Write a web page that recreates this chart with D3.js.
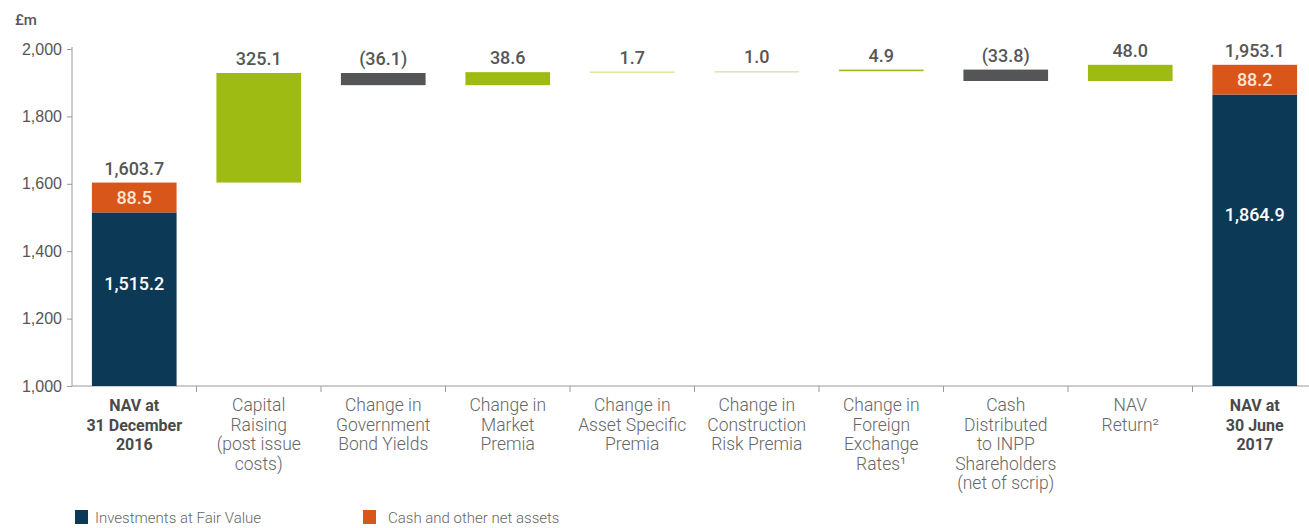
<!DOCTYPE html>
<html>
<head>
<meta charset="utf-8">
<script src="https://cdn.jsdelivr.net/npm/d3@7"></script>
<style>
  body { margin: 0; background: #fff; }
  svg { display: block; font-family: Roboto, "Liberation Sans", sans-serif; }
</style>
</head>
<body>
<div id="chart"></div>
<script>
// ============= Data =============
const categories = [
    ["NAV at", "31 December", "2016"],
    ["Capital", "Raising", "(post issue", "costs)"],
    ["Change in", "Government", "Bond Yields"],
    ["Change in", "Market", "Premia"],
    ["Change in", "Asset Specific", "Premia"],
    ["Change in", "Construction", "Risk Premia"],
    ["Change in", "Foreign", "Exchange", "Rates\u00B9"],
    ["Cash", "Distributed", "to INPP", "Shareholders", "(net of scrip)"],
    ["NAV", "Return\u00B2"],
    ["NAV at", "30 June", "2017"]
];
const openingInvestments = 1515.2;
const openingCash = 88.5;
const movements = [325.1, -36.1, 38.6, 1.7, 1.0, 4.9, -33.8, 48.0];
const closingInvestments = 1864.9;
const closingCash = 88.2;
const yTicks = [1000, 1200, 1400, 1600, 1800, 2000];
const legendItems = ["Investments at Fair Value", "Cash and other net assets"];

const width = 1309;
const height = 528;
const margin = { top: 49, left: 72, bottom: 142 };

const navy = "#0c3a56";
const orange = "#d9561b";
const green = "#9dbb12";
const darkGrey = "#535557";
const textGrey = "#565656";

// running totals for the waterfall steps
let running = openingInvestments + openingCash;
const steps = movements.map((v, i) => {
    const start = running;
    running += v;
    return { idx: i + 1, value: v, start, end: running };
});
const openingTotal = openingInvestments + openingCash;
const closingTotal = closingInvestments + closingCash;

// ============= Scales =============
const x = d3.scaleBand()
    .domain(d3.range(categories.length))
    .range([margin.left, margin.left + 10 * 124.5])
    .paddingInner(0.32)
    .paddingOuter(0.16);

const y = d3.scaleLinear()
    .domain([1000, 2000])
    .range([height - margin.bottom, margin.top]);

const svg = d3.select("#chart")
    .append("svg")
    .attr("width", width)
    .attr("height", height);

// ============= Axes =============
const yAxis = svg.append("g")
    .attr("transform", `translate(${margin.left},0)`)
    .call(d3.axisLeft(y).tickValues(yTicks).tickSize(5).tickPadding(5).tickFormat(d3.format(",")));
yAxis.select(".domain").attr("stroke", "#9a9a9a").attr("d", `M0,${y(1000)}V${y(2000) - 2}`);
yAxis.selectAll(".tick line").attr("stroke", "#9a9a9a");
yAxis.selectAll(".tick text")
    .attr("fill", textGrey)
    .style("font-size", "16px")
    .style("font-weight", 500);

svg.append("text")
    .attr("x", 15)
    .attr("y", 25)
    .attr("fill", textGrey)
    .style("font-size", "15px")
    .style("font-weight", 500)
    .text("£m");

// x axis baseline with separators between categories
const xAxis = svg.append("g");
xAxis.append("line")
    .attr("x1", margin.left)
    .attr("x2", width)
    .attr("y1", y(1000))
    .attr("y2", y(1000))
    .attr("stroke", "#9a9a9a");
xAxis.selectAll("line.sep")
    .data(d3.range(1, categories.length))
    .join("line")
    .attr("class", "sep")
    .attr("x1", i => x(i) - x.step() * x.paddingInner() / 2)
    .attr("x2", i => x(i) - x.step() * x.paddingInner() / 2)
    .attr("y1", y(1000))
    .attr("y2", y(1000) + 6)
    .attr("stroke", "#9a9a9a");

// category labels
const bold = new Set([0, categories.length - 1]);
categories.forEach((lines, i) => {
    const t = svg.append("text")
        .attr("text-anchor", "middle")
        .attr("fill", bold.has(i) ? "#4a4a4a" : "#666")
        .style("font-size", bold.has(i) ? "16px" : "17.5px")
        .style("font-weight", bold.has(i) ? 700 : 300);
    lines.forEach((line, j) => {
        t.append("tspan")
            .attr("x", x(i) + x.bandwidth() / 2)
            .attr("y", y(1000) + 25 + j * 19.5)
            .text(line);
    });
});

// ============= Bars =============
const ends = [
    { idx: 0, inv: openingInvestments, cash: openingCash, total: openingTotal },
    { idx: categories.length - 1, inv: closingInvestments, cash: closingCash, total: closingTotal }
];

ends.forEach(d => {
    svg.append("rect")
        .attr("x", x(d.idx))
        .attr("width", x.bandwidth())
        .attr("y", y(d.inv))
        .attr("height", y(1000) - y(d.inv))
        .attr("fill", navy);
    svg.append("rect")
        .attr("x", x(d.idx))
        .attr("width", x.bandwidth())
        .attr("y", y(d.total))
        .attr("height", y(d.inv) - y(d.total))
        .attr("fill", orange);

    const cx = x(d.idx) + x.bandwidth() / 2;
    svg.append("text")
        .attr("x", cx)
        .attr("y", y(d.total) - 8)
        .attr("text-anchor", "middle")
        .attr("fill", textGrey)
        .style("font-size", "18px")
        .style("font-weight", 500)
        .text(d3.format(",.1f")(d.total));
    svg.append("text")
        .attr("x", cx)
        .attr("y", (y(d.inv) + y(d.total)) / 2)
        .attr("dy", "0.36em")
        .attr("text-anchor", "middle")
        .attr("fill", "#fbe6d4")
        .style("font-size", "18px")
        .style("font-weight", 500)
        .text(d3.format(",.1f")(d.cash));
    svg.append("text")
        .attr("x", cx)
        .attr("y", y(1000) - 0.59 * (y(1000) - y(d.inv)))
        .attr("dy", "0.36em")
        .attr("text-anchor", "middle")
        .attr("fill", "#fff")
        .style("font-size", "18px")
        .style("font-weight", 500)
        .text(d3.format(",.1f")(d.inv));
});

svg.selectAll("rect.step")
    .data(steps)
    .join("rect")
    .attr("class", "step")
    .attr("x", d => x(d.idx))
    .attr("width", x.bandwidth())
    .attr("y", d => y(Math.max(d.start, d.end)))
    .attr("height", d => Math.max(1.2, Math.abs(y(d.start) - y(d.end))))
    .attr("fill", d => d.value < 0 ? darkGrey : green)
    .attr("opacity", d => Math.abs(d.value) < 3 ? 0.45 : 1);

svg.selectAll("text.step")
    .data(steps)
    .join("text")
    .attr("class", "step")
    .attr("x", d => x(d.idx) + x.bandwidth() / 2)
    .attr("y", d => y(Math.max(d.start, d.end)) - 8)
    .attr("text-anchor", "middle")
    .attr("fill", textGrey)
    .style("font-size", "18px")
    .style("font-weight", 500)
    .text(d => d.value < 0 ? `(${d3.format(".1f")(-d.value)})` : d3.format(".1f")(d.value));

// ============= Legend =============
const legend = svg.append("g");
const legendX = [75, 363];
[navy, orange].forEach((c, i) => {
    legend.append("rect")
        .attr("x", legendX[i])
        .attr("y", 510)
        .attr("width", 13)
        .attr("height", 14)
        .attr("fill", c);
    legend.append("text")
        .attr("x", legendX[i] + (i === 0 ? 20 : 25))
        .attr("y", 523)
        .attr("fill", "#666")
        .style("font-size", "15px")
        .style("font-weight", 300)
        .text(legendItems[i]);
});
</script>
</body>
</html>
